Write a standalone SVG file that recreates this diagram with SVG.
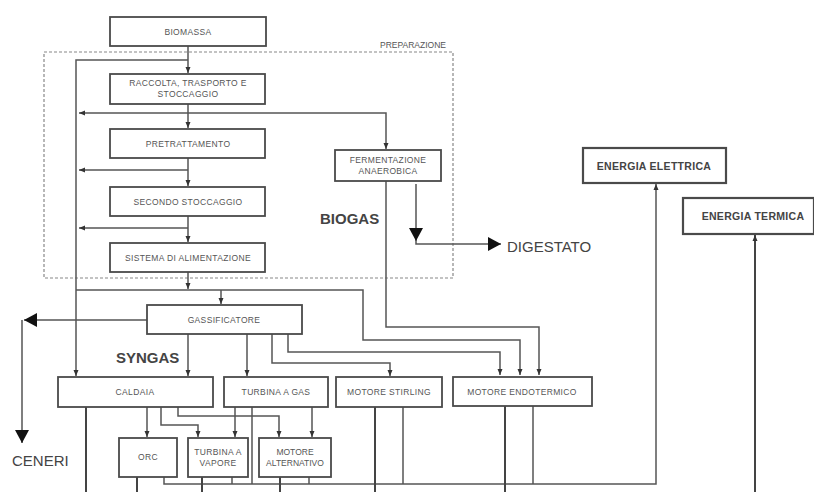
<svg xmlns="http://www.w3.org/2000/svg" width="814" height="492" viewBox="0 0 814 492">
<style>
.box{fill:#fff;stroke:#4a4a4a;stroke-width:1.8}
.t{font-family:"Liberation Sans",Arial,sans-serif;font-size:8.5px;letter-spacing:0.35px;fill:#555;text-anchor:middle}
.tb{font-family:"Liberation Sans",Arial,sans-serif;font-size:10.5px;letter-spacing:0.3px;font-weight:bold;fill:#444;text-anchor:middle}
.big{font-family:"Liberation Sans",Arial,sans-serif;font-size:15px;fill:#444}
.bigb{font-family:"Liberation Sans",Arial,sans-serif;font-size:15px;font-weight:bold;fill:#444}
.c{fill:none;stroke:#555;stroke-width:1.5}
.k{fill:none;stroke:#444;stroke-width:2}
.a{marker-end:url(#s)}
.A{marker-end:url(#b)}
</style>
<defs>
<marker id="s" markerUnits="userSpaceOnUse" markerWidth="6" markerHeight="6" viewBox="0 0 6 6" refX="6" refY="3" orient="auto"><path d="M0,0.5 L6,3 L0,5.5 Z" fill="#333"/></marker>
<marker id="b" markerUnits="userSpaceOnUse" markerWidth="14" markerHeight="14" viewBox="0 0 14 14" refX="13" refY="7" orient="auto"><path d="M0,0 L13,7 L0,14 Z" fill="#111"/></marker>
</defs>
<rect width="814" height="492" fill="#fff"/>

<g id="preparazione">
<rect x="44" y="52" width="409" height="226" fill="none" stroke="#888" stroke-width="1.2" stroke-dasharray="3,2"/>
<text x="446" y="48" class="t" style="text-anchor:end;letter-spacing:0">PREPARAZIONE</text>
</g>

<g id="connectors">
<path class="c a" d="M188,46 V73"/>
<path class="c a" d="M188,60 H76 V376"/>
<path class="c a" d="M188,104 V128"/>
<path class="c a" d="M188,113 H79"/>
<path class="c a" d="M188,113 H386 V149"/>
<path class="c a" d="M188,158 V186"/>
<path class="c a" d="M188,170 H79"/>
<path class="c a" d="M188,216 V242"/>
<path class="c a" d="M188,228 H79"/>
<path class="c a" d="M188,272 V289"/>
<path class="c a" d="M76,290 H363 V340 H520 V375"/>
<path class="c a" d="M221,290 V304"/>
<path class="c a" d="M386,181 V327 H539 V375"/>
<path class="c A" d="M147,320 H24"/>
<path class="c A" d="M22,320 V443"/>
<path class="c a" d="M188,334 V376"/>
<path class="c a" d="M247,334 V376"/>
<path class="c a" d="M272,334 V363 H390 V376"/>
<path class="c a" d="M288,334 V352 H500 V375"/>
<path class="c A" d="M416,184 V241"/>
<path class="c A" d="M416,240 V244 H501"/>
<path class="k" d="M86,407 V492"/>
<path class="c a" d="M147,407 V437"/>
<path class="c a" d="M161,407 V425 H198 V437"/>
<path class="c a" d="M178,407 V416 H279 V437"/>
<path class="c a" d="M235,407 V437"/>
<path class="c" d="M252,407 V484"/>
<path class="c a" d="M312,407 V437"/>
<path class="k" d="M137,477 V492"/>
<path class="c a" d="M164,477 V484 H656 V184"/>
<path class="k" d="M202,477 V492"/>
<path class="c" d="M232,477 V484"/>
<path class="k" d="M280,477 V492"/>
<path class="c" d="M309,477 V484"/>
<path class="k" d="M375,407 V492"/>
<path class="c" d="M403,407 V484"/>
<path class="k" d="M505,406 V492"/>
<path class="c" d="M533,406 V484"/>
<path class="k a" d="M755,492 V235"/>
</g>

<g id="biomassa"><rect class="box" x="110" y="17" width="156" height="29"/><text class="t" x="188" y="34.5">BIOMASSA</text></g>
<g id="raccolta"><rect class="box" x="110" y="74" width="155" height="30"/><text class="t" x="188" y="86">RACCOLTA, TRASPORTO E</text><text class="t" x="188" y="97">STOCCAGGIO</text></g>
<g id="pretrattamento"><rect class="box" x="110" y="129" width="155" height="29"/><text class="t" x="188" y="146.5">PRETRATTAMENTO</text></g>
<g id="secondo"><rect class="box" x="110" y="187" width="155" height="29"/><text class="t" x="188" y="204.5">SECONDO STOCCAGGIO</text></g>
<g id="sistema"><rect class="box" x="110" y="243" width="155" height="29"/><text class="t" x="188" y="260.5">SISTEMA DI ALIMENTAZIONE</text></g>
<g id="fermentazione"><rect class="box" x="335" y="150" width="106" height="31"/><text class="t" x="388" y="163">FERMENTAZIONE</text><text class="t" x="388" y="174">ANAEROBICA</text></g>
<g id="gassificatore"><rect class="box" x="147" y="305" width="155" height="29"/><text class="t" x="224" y="322.5">GASSIFICATORE</text></g>
<g id="caldaia"><rect class="box" x="58" y="377" width="155" height="30"/><text class="t" x="135" y="395">CALDAIA</text></g>
<g id="turbina-gas"><rect class="box" x="224" y="377" width="104" height="30"/><text class="t" x="276" y="395">TURBINA A GAS</text></g>
<g id="stirling"><rect class="box" x="336" y="377" width="106" height="30"/><text class="t" x="389" y="395">MOTORE STIRLING</text></g>
<g id="endotermico"><rect class="box" x="453" y="377" width="139" height="29"/><text class="t" x="522" y="394.5">MOTORE ENDOTERMICO</text></g>
<g id="orc"><rect class="box" x="119" y="438" width="58" height="39"/><text class="t" x="148" y="460">ORC</text></g>
<g id="turbina-vapore"><rect class="box" x="188" y="438" width="60" height="39"/><text class="t" x="218" y="455">TURBINA A</text><text class="t" x="218" y="466">VAPORE</text></g>
<g id="motore-alternativo"><rect class="box" x="259" y="438" width="72" height="39"/><text class="t" x="295" y="455" style="letter-spacing:0">MOTORE</text><text class="t" x="295" y="466" style="letter-spacing:0">ALTERNATIVO</text></g>
<g id="energia-elettrica"><rect class="box" x="583" y="148" width="143" height="35" style="stroke-width:2.2"/><text class="tb" x="654" y="169.5">ENERGIA ELETTRICA</text></g>
<g id="energia-termica"><rect class="box" x="683" y="198" width="131" height="36" style="stroke-width:2.2"/><text class="tb" x="753" y="220">ENERGIA TERMICA</text></g>

<g id="labels">
<text class="bigb" x="320" y="224">BIOGAS</text>
<text class="big" x="507" y="252">DIGESTATO</text>
<text class="bigb" x="116" y="363">SYNGAS</text>
<text class="big" x="12" y="466">CENERI</text>
</g>
</svg>
